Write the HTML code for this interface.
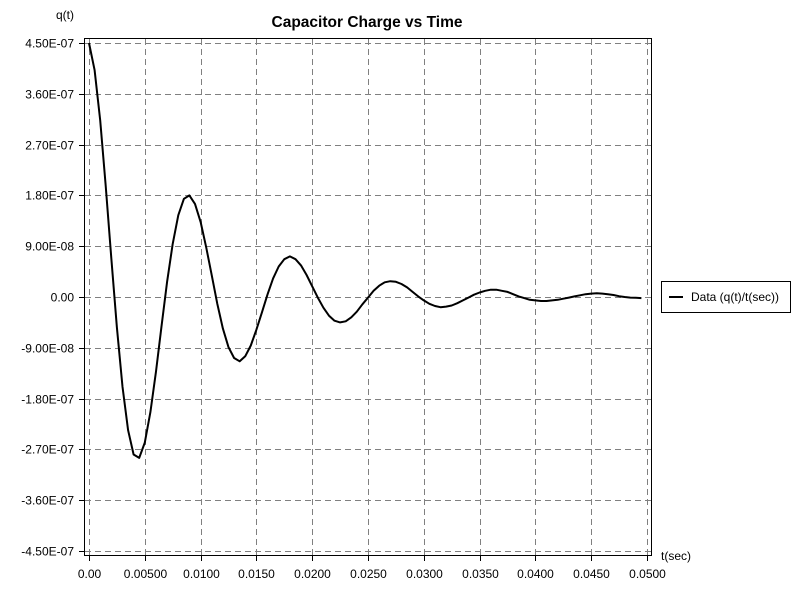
<!DOCTYPE html>
<html><head><meta charset="utf-8"><style>
body{margin:0;background:#fff;}
svg{display:block;font-family:"Liberation Sans",sans-serif;}
</style></head><body>
<svg id="chart" width="800" height="600" xmlns="http://www.w3.org/2000/svg">
<rect x="0" y="0" width="800" height="600" fill="#fff"/>
<text x="367" y="27" text-anchor="middle" font-size="15.5" font-weight="bold">Capacitor Charge vs Time</text>
<text x="56" y="19" font-size="12">q(t)</text>
<text x="661" y="560" font-size="12">t(sec)</text>
<g id="grid"></g>
<g id="axes"></g>
<path id="series" fill="none" stroke="#000" stroke-width="2" stroke-linejoin="round"></path>
<rect x="84.5" y="38.5" width="567" height="517" fill="none" stroke="#000"/>
<g>
<rect x="661.5" y="281.5" width="129" height="31" fill="#fff" stroke="#000"/>
<line x1="669" y1="297" x2="683" y2="297" stroke="#000" stroke-width="2"/>
<text x="691" y="301" font-size="12">Data (q(t)/t(sec))</text>
</g>
</svg>
<script>
const xTicks=[0,0.005,0.010,0.015,0.020,0.025,0.030,0.035,0.040,0.045,0.050];
const xTickLabels=["0.00","0.00500","0.0100","0.0150","0.0200","0.0250","0.0300","0.0350","0.0400","0.0450","0.0500"];
const yTicks=[4.5e-7,3.6e-7,2.7e-7,1.8e-7,9e-8,0,-9e-8,-1.8e-7,-2.7e-7,-3.6e-7,-4.5e-7];
const yTickLabels=["4.50E-07","3.60E-07","2.70E-07","1.80E-07","9.00E-08","0.00","-9.00E-08","-1.80E-07","-2.70E-07","-3.60E-07","-4.50E-07"];
const tStep=0.0005;
const qValues=[45.0,40.2,31.3,19.7,6.9,-5.4,-15.9,-23.6,-27.9,-28.5,-25.8,-20.4,-13.2,-5.2,2.7,9.4,14.5,17.4,18.0,16.5,13.3,8.8,3.8,-1.2,-5.6,-8.9,-10.8,-11.4,-10.5,-8.6,-5.8,-2.7,0.5,3.3,5.4,6.7,7.2,6.7,5.6,3.9,1.9,-0.1,-1.9,-3.3,-4.2,-4.5,-4.3,-3.6,-2.6,-1.3,-0.1,1.1,2.0,2.6,2.8,2.7,2.3,1.7,0.9,0.1,-0.6,-1.2,-1.6,-1.8,-1.7,-1.5,-1.1,-0.6,-0.1,0.4,0.8,1.1,1.3,1.3,1.1,0.9,0.5,0.1,-0.2,-0.5,-0.6,-0.7,-0.7,-0.6,-0.5,-0.3,-0.1,0.1,0.3,0.5,0.6,0.65,0.6,0.5,0.35,0.15,0.0,-0.1,-0.15,-0.2];
const qScale=1e-8;

const X0=89,X1=647,Y0=43,Y1=551;
function xs(v){return X0+(v-0)/(0.05-0)*(X1-X0);}
function ys(v){return Y1-(v-(-4.5e-7))/(9e-7)*(Y1-Y0);}
const NS="http://www.w3.org/2000/svg";
const grid=document.getElementById('grid'),axes=document.getElementById('axes');
function mk(tag,attrs,parent){const e=document.createElementNS(NS,tag);for(const k in attrs)e.setAttribute(k,attrs[k]);parent.appendChild(e);return e;}
xTicks.forEach((v,i)=>{
  const x=Math.round(xs(v))+0.5;
  const g=mk('line',{x1:x,y1:39,x2:x,y2:555,stroke:'#808080','stroke-dasharray':'6,4'},grid);
  
  
  const t=mk('line',{x1:x,y1:555,x2:x,y2:561,stroke:'#000'},axes);
  
  
  const l=mk('text',{x:x,y:578,'text-anchor':'middle','font-size':'12'},axes);
  l.textContent=xTickLabels[i];
  
  
});
yTicks.forEach((v,i)=>{
  const y=Math.round(ys(v))+0.5;
  const g=mk('line',{x1:85,y1:y,x2:651,y2:y,stroke:'#808080','stroke-dasharray':'6,4'},grid);
  
  
  const t=mk('line',{x1:79,y1:y,x2:85,y2:y,stroke:'#000'},axes);
  
  
  const l=mk('text',{x:74,y:y+4,'text-anchor':'end','font-size':'12'},axes);
  l.textContent=yTickLabels[i];
  
  
});
let d='';
qValues.forEach((q,i)=>{d+=(i?'L':'M')+xs(i*tStep).toFixed(1)+','+ys(q*qScale).toFixed(1);});
document.getElementById('series').setAttribute('d',d);
</script>
</body></html>
